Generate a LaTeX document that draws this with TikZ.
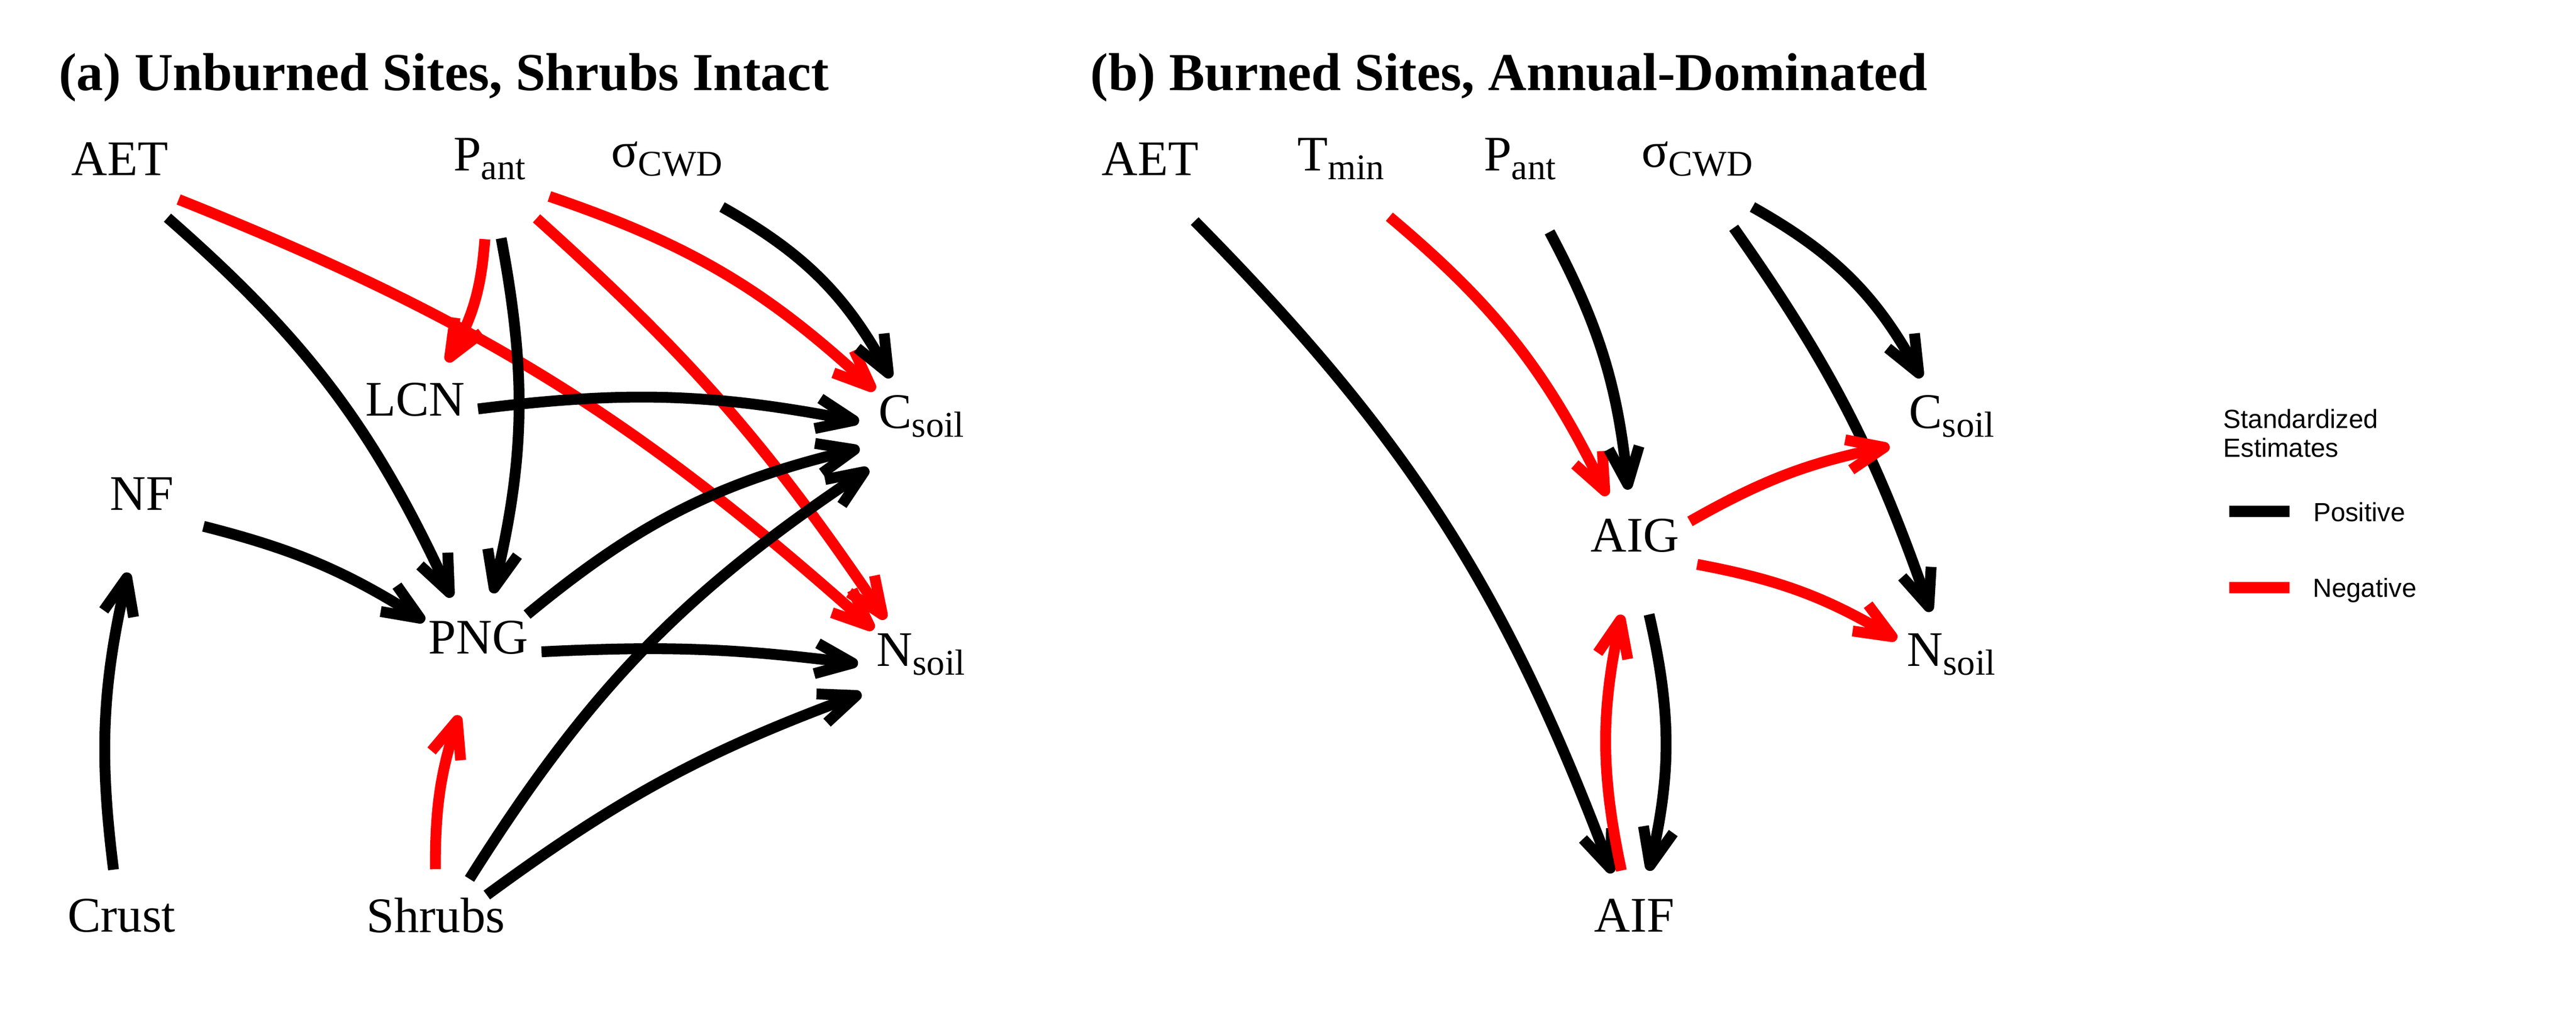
\documentclass[tikz,border=0pt]{standalone}
\usepackage{fontspec}
\setmainfont{Liberation Serif}
\setsansfont{Liberation Sans}
\usetikzlibrary{arrows.meta}
\newcommand{\lsub}[1]{\raisebox{-1.9pt}{\fontsize{8}{9}\selectfont #1}}
\tikzset{
  lab/.style={inner sep=0pt, yshift=0.133cm, font=\fontsize{11}{13}\selectfont},
  vertex/.style={circle, minimum size=0.97cm, inner sep=0pt, label={[lab]center:#1}},
  eff/.style={line width=2.4pt, -{Straight Barb[angle=45:0.31cm, line cap=butt, line join=round]}},
  poseff/.style={eff, black},
  negeff/.style={eff, red},
  ttl/.style={anchor=base west, inner sep=0pt, font=\bfseries\fontsize{11.8}{14}\selectfont},
  leg/.style={anchor=base west, inner sep=0pt, font=\sffamily\fontsize{5.8}{7}\selectfont}
}
\begin{document}
\begin{tikzpicture}
    \useasboundingbox (0,0) rectangle (20,8);
    \node[ttl] (ttla) at (0.45,7.297) {(a) Unburned Sites, Shrubs Intact};
    \node[ttl] (ttlb) at (8.46,7.297) {(b) Burned Sites, Annual-Dominated};
    \node[vertex=AET] (aet) at (0.93,6.633) {};
    \node[vertex=P\lsub{ant}] (pant) at (3.80,6.633) {};
    \node[vertex=σ\lsub{CWD}] (scwd) at (5.177,6.633) {};
    \node[vertex=LCN] (lcn) at (3.223,4.763) {};
    \node[vertex=C\lsub{soil}] (csoil) at (7.153,4.633) {};
    \node[vertex=NF] (nf) at (1.103,4.033) {};
    \node[vertex=PNG] (png) at (3.713,2.913) {};
    \node[vertex=N\lsub{soil}] (nsoil) at (7.15,2.783) {};
    \node[vertex=Crust] (crust) at (0.943,0.757) {};
    \node[vertex=Shrubs] (shrubs) at (3.383,0.757) {};
    \draw[poseff] (aet) to[bend left=12] (png);
    \draw[negeff] (aet) to[bend left=10] (nsoil);
    \draw[negeff] (pant) to[bend left=13] (lcn);
    \draw[poseff] (pant) to[bend left=12] (png);
    \draw[negeff] (pant) to[bend left=12] (csoil);
    \draw[negeff] (pant) to[bend left=7] (nsoil);
    \draw[poseff] (scwd) to[bend left=16] (csoil);
    \draw[poseff] (lcn) to[bend left=9] (csoil);
    \draw[poseff] (nf) to[bend left=9] (png);
    \draw[poseff] (crust) to[bend left=10] (nf);
    \draw[poseff] (png) to[bend left=13] (csoil);
    \draw[poseff] (png) to[bend left=5] (nsoil);
    \draw[poseff] (shrubs) to[bend left=12] (csoil);
    \draw[poseff] (shrubs) to[bend left=8] (nsoil);
    \draw[negeff] (shrubs) to[bend left=9] (png);
    \node[vertex=AET] (aetb) at (8.93,6.633) {};
    \node[vertex=T\lsub{min}] (tmin) at (10.41,6.633) {};
    \node[vertex=P\lsub{ant}] (pantb) at (11.80,6.633) {};
    \node[vertex=σ\lsub{CWD}] (scwdb) at (13.177,6.633) {};
    \node[vertex=C\lsub{soil}] (csoilb) at (15.153,4.633) {};
    \node[vertex=AIG] (aig) at (12.693,3.707) {};
    \node[vertex=N\lsub{soil}] (nsoilb) at (15.15,2.783) {};
    \node[vertex=AIF] (aif) at (12.69,0.757) {};
    \draw[poseff] (aetb) to[bend left=12] (aif);
    \draw[negeff] (tmin) to[bend left=12] (aig);
    \draw[poseff] (pantb) to[bend left=11] (aig);
    \draw[poseff] (scwdb) to[bend left=16] (csoilb);
    \draw[poseff] (scwdb) to[bend left=8] (nsoilb);
    \draw[negeff] (aig) to[bend left=9] (csoilb);
    \draw[negeff] (aig) to[bend left=10] (nsoilb);
    \draw[poseff] (aig) to[bend left=13] (aif);
    \draw[negeff] (aif) to[bend left=12] (aig);
    \node[leg] (legt) at (17.255,4.673) {Standardized};
    \node[leg] (lege) at (17.255,4.451) {Estimates};
    \coordinate (posa) at (17.307,4.027);
    \coordinate (posb) at (17.777,4.027);
    \coordinate (nega) at (17.307,3.437);
    \coordinate (negb) at (17.777,3.437);
    \draw[line width=0.089cm] (posa) -- (posb);
    \draw[line width=0.089cm, red] (nega) -- (negb);
    \node[leg] (legp) at (17.953,3.948) {Positive};
    \node[leg] (legn) at (17.95,3.361) {Negative};
\end{tikzpicture}
\end{document}
